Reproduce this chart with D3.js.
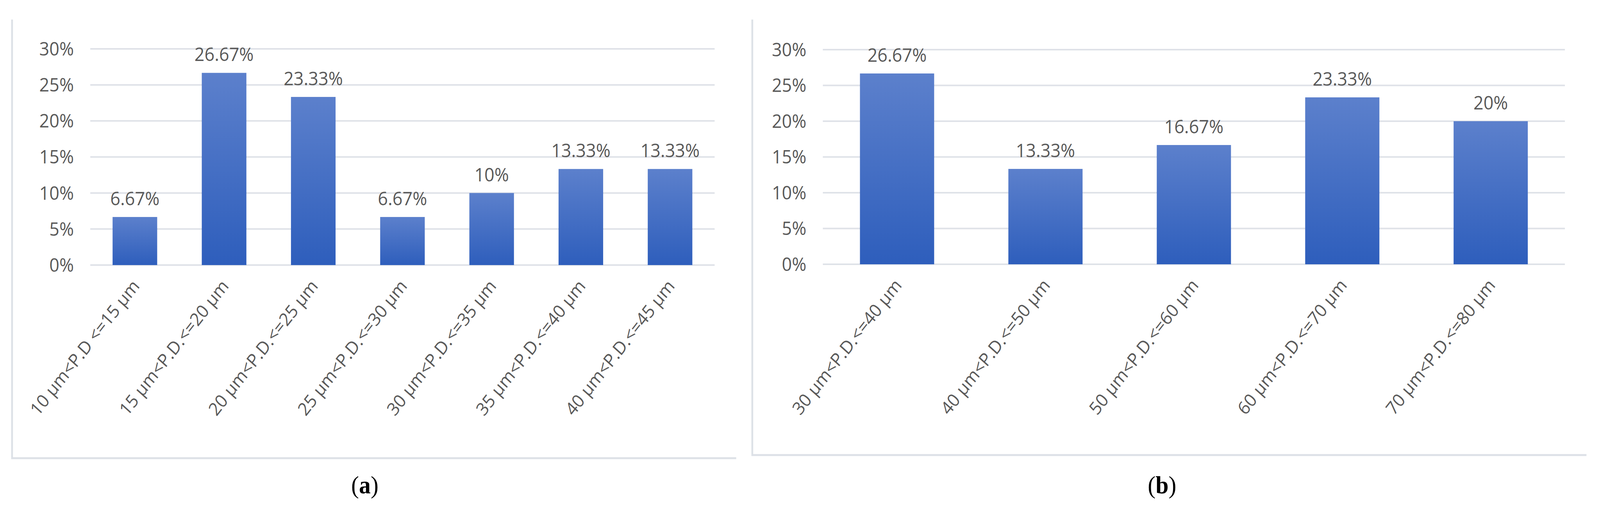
<!DOCTYPE html>
<html><head><meta charset="utf-8">
<script src="https://cdn.jsdelivr.net/npm/d3@7"></script>
<style>html,body{margin:0;padding:0;background:#fff;overflow:hidden}
#chart{display:block;width:100vw;height:100vh}</style>
</head><body>
<svg id="chart" viewBox="0 0 4377 1302" preserveAspectRatio="none"></svg>
<script>
const catsA = ['10 μm<P.D <=15 μm','15 μm<P.D.<=20 μm','20 μm<P.D.<=25 μm','25 μm<P.D.<=30 μm','30 μm<P.D.<=35 μm','35 μm<P.D.<=40 μm','40 μm<P.D.<=45 μm'];
const valsA = [6.67, 26.67, 23.33, 6.67, 10, 13.33, 13.33];
const catsB = ['30 μm<P.D.<=40 μm','40 μm<P.D.<=50 μm','50 μm<P.D.<=60 μm','60 μm<P.D.<=70 μm','70 μm<P.D.<=80 μm'];
const valsB = [26.67, 13.33, 16.67, 23.33, 20];
const yTicks = [0, 5, 10, 15, 20, 25, 30];

const svg = d3.select('#chart');
const grad = svg.append('defs').append('linearGradient')
    .attr('id','barg').attr('x1',0).attr('y1',0).attr('x2',0).attr('y2',1);
grad.append('stop').attr('offset','0%').attr('stop-color','#5c80cc');
grad.append('stop').attr('offset','100%').attr('stop-color','#2e5ebc');

const font = 'Open Sans, sans-serif';
const txt = '#595959';

const draw_panel = function(cats, vals, box, plot, tag){
    // panel frame (left + bottom only like reference)
    svg.append('path')
        .attr('d', `M${box.x0},${box.y0}V${box.y1}H${box.x1}`)
        .attr('fill','none').attr('stroke','#dde1e7').attr('stroke-width',5);

    const x = d3.scaleBand().domain(cats).range([plot.x0, plot.x1]).paddingInner(0.5).paddingOuter(0.25);
    const y = d3.scaleLinear().domain([0,30]).range([plot.y1, plot.y0]);

    const g = svg.append('g');
    g.selectAll('line.grid').data(yTicks).join('line')
        .attr('x1', plot.x0).attr('x2', plot.x1)
        .attr('y1', d => y(d)).attr('y2', d => y(d))
        .attr('stroke','#dfe2e8').attr('stroke-width',4);
    g.selectAll('text.yt').data(yTicks).join('text')
        .attr('x', plot.x0 - 45).attr('y', d => y(d) + 17)
        .attr('text-anchor','end').attr('font-family',font).attr('font-size',48)
        .attr('fill',txt).text(d => d + '%');

    g.selectAll('rect').data(vals).join('rect')
        .attr('x', (d,i) => x(cats[i])).attr('width', x.bandwidth())
        .attr('y', d => y(d)).attr('height', d => y(0) - y(d))
        .attr('fill','url(#barg)');

    g.selectAll('text.val').data(vals).join('text')
        .attr('x', (d,i) => x(cats[i]) + x.bandwidth()/2)
        .attr('y', d => y(d) - 30)
        .attr('text-anchor','middle').attr('font-family',font).attr('font-size',48)
        .attr('fill',txt).text(d => d + '%');

    g.selectAll('text.cat').data(cats).join('text')
        .attr('transform', d => `translate(${x(d) + x.bandwidth()/2 + 15},${plot.y1 + 55}) rotate(-50)`)
        .attr('text-anchor','end').attr('font-family',font).attr('font-size',46)
        .attr('fill',txt).text(d => d);

    svg.append('text').attr('x', tag.x).attr('y', tag.y)
        .attr('text-anchor','middle').attr('font-family','Liberation Serif, serif')
        .attr('font-size',64).attr('fill','#000')
        .html(`(<tspan font-weight="bold">${tag.t}</tspan>)`);
}

draw_panel(catsA, valsA, {x0:33, y0:50, x1:2014, y1:1172}, {x0:247, x1:1955, y0:125, y1:678}, {x:998, y:1262, t:'a'});
draw_panel(catsB, valsB, {x0:2058, y0:50, x1:4340, y1:1164}, {x0:2251, x1:4281, y0:127, y1:676}, {x:3179, y:1262, t:'b'});
</script>
</body></html>
